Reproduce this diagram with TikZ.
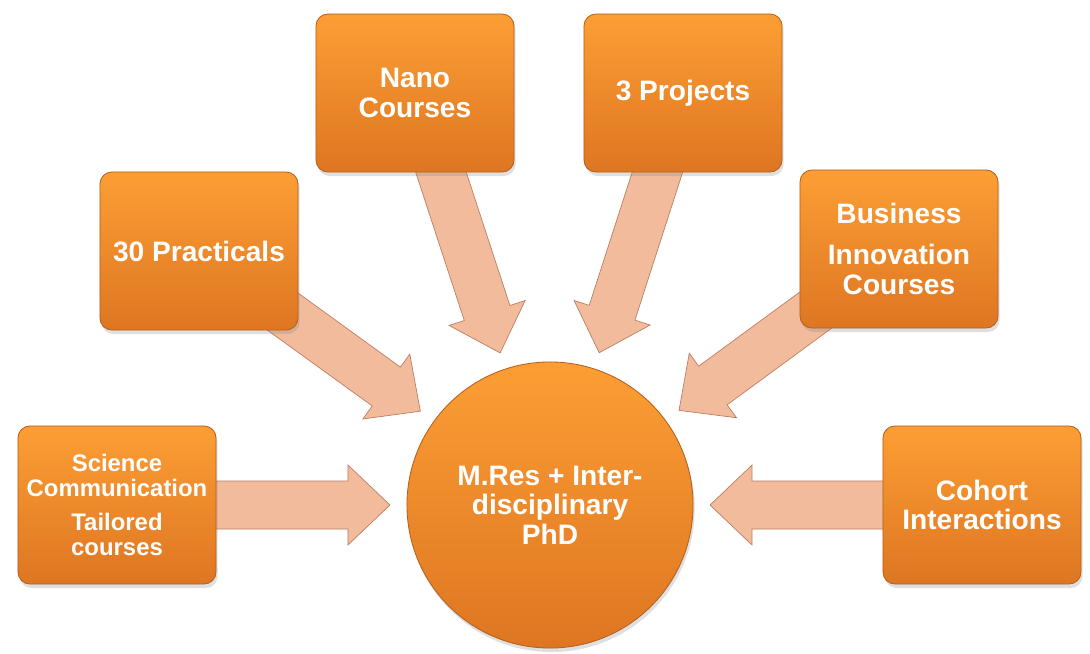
\documentclass[tikz,border=0pt]{standalone}
\usepackage{fontspec}
\setmainfont{Liberation Sans}
\usetikzlibrary{calc,shadows,backgrounds}
\definecolor{boxtop}{RGB}{252,158,52}
\definecolor{boxbot}{RGB}{222,118,34}
\definecolor{boxedge}{RGB}{180,96,30}
\definecolor{arrowfill}{RGB}{242,188,156}
\definecolor{arrowedge}{RGB}{188,126,98}
\begin{document}
\begin{tikzpicture}[x=0.025cm,y=-0.025cm,font=\bfseries\fontsize{20}{21}\selectfont,
    block/.style={rectangle,rounded corners=0.3cm,minimum width=4.95cm,minimum height=3.95cm,
      top color=boxtop,bottom color=boxbot,draw=boxedge,line width=0.6pt,text=white,align=center,
      drop shadow={opacity=0.25,shadow xshift=0.04cm,shadow yshift=-0.1cm}},
    hubnode/.style={circle,minimum size=7.15cm,top color=boxtop,bottom color=boxbot,draw=boxedge,
      line width=0.6pt,text=white,align=center,
      drop shadow={opacity=0.25,shadow xshift=0.04cm,shadow yshift=-0.1cm}},
    feed/.style={fill=arrowfill,draw=arrowedge,line width=0.5pt,line join=miter}]
    \useasboundingbox (0,0) rectangle (1090,653);
    \node[hubnode] (hub) at (550,505) {M.Res + Inter-\\disciplinary\\PhD};
    \node[block,font=\bfseries\fontsize{17}{18}\selectfont] (sci) at (117,505) {Science\\Communication\\[6pt]Tailored\\courses};
    \node[block] (prac) at (199,251) {30 Practicals};
    \node[block] (nano) at (415,93) {Nano\\Courses};
    \node[block] (proj) at (683,93) {3 Projects};
    \node[block] (bus) at (899,249) {Business\\[8pt]Innovation\\Courses};
    \node[block] (coh) at (982,505) {Cohort\\Interactions};
    % block arrows into the hub
    \begin{scope}[on background layer]
        \foreach \src in {sci,prac,nano,proj,bus,coh}{
            \coordinate (tip) at ($(hub.center)!4cm!(\src.center)$);
            \coordinate (neck) at ($(tip)!1.05cm!(\src.center)$);
            \draw[feed] ($(\src.center)!0.6cm!90:(tip)$)--($(neck)!0.6cm!90:(tip)$)--($(neck)!1cm!90:(tip)$)
                --(tip)--($(neck)!1cm!-90:(tip)$)--($(neck)!0.6cm!-90:(tip)$)--($(\src.center)!0.6cm!-90:(tip)$)--cycle;
        }
    \end{scope}
\end{tikzpicture}
\end{document}
